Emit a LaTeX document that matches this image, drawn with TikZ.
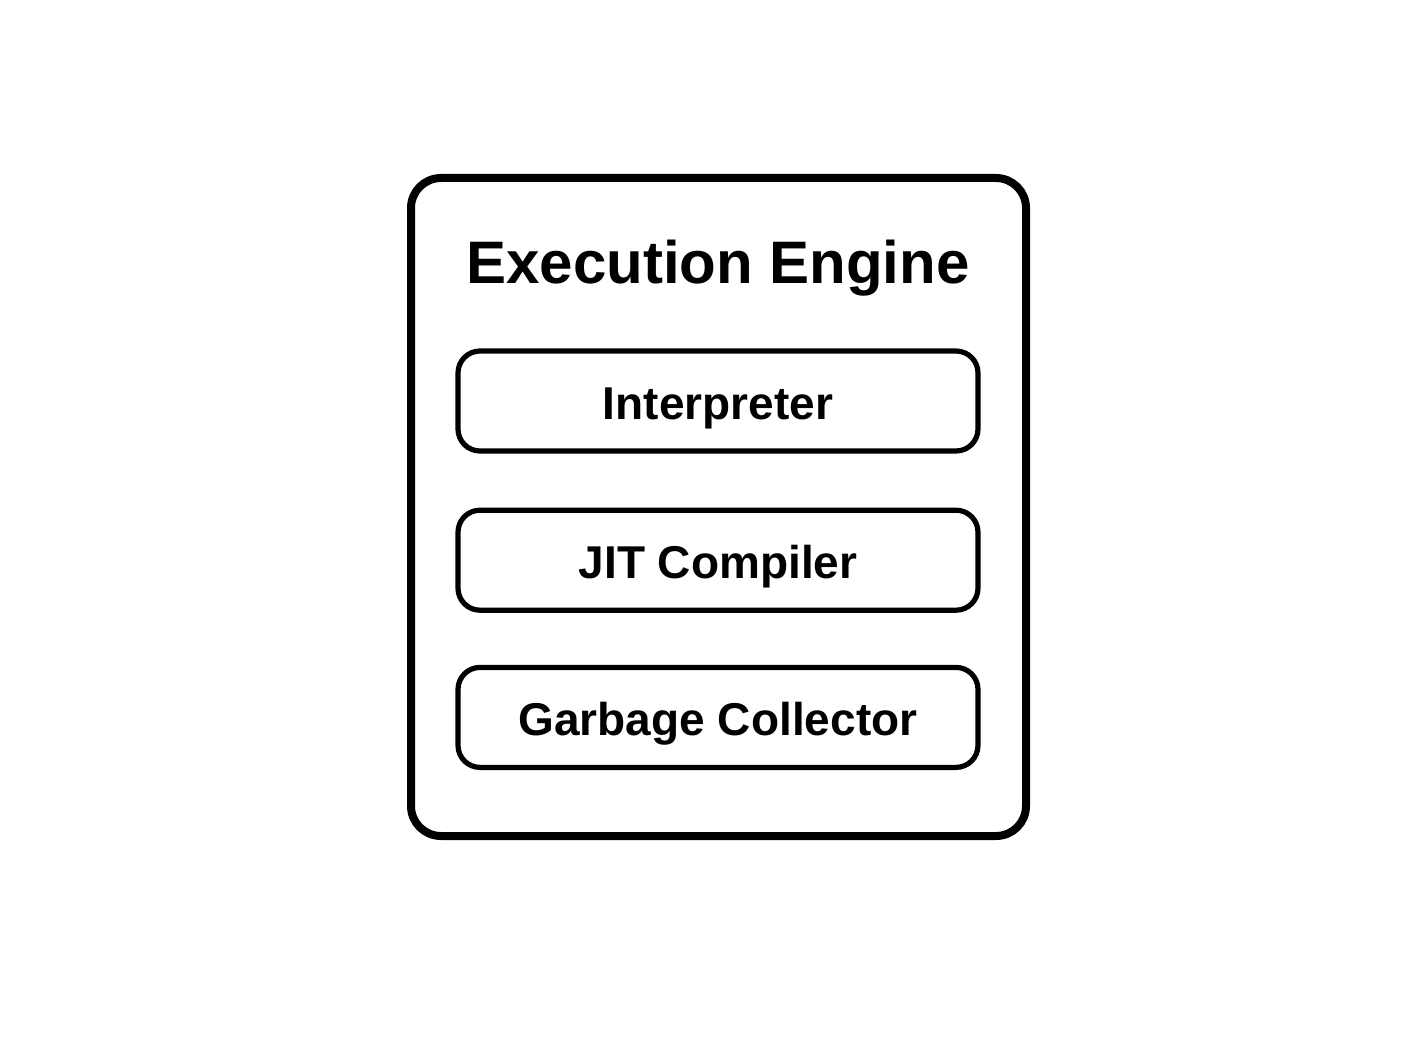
\documentclass[tikz,border=0pt]{standalone}
\usepackage{fontspec}
\setmainfont{Liberation Sans}
\usetikzlibrary{positioning}

\tikzset{
    frame/.style={draw, line width=4pt, rounded corners=15pt},
    part/.style={draw, line width=2.6pt, rounded corners=11pt,
        minimum width=260pt, minimum height=50pt,
        text height=18.5pt, text depth=0pt,
        font=\fontsize{23}{26}\selectfont\bfseries}
}

\begin{document}
\begin{tikzpicture}[x=0.5pt, y=-0.5pt]
    \useasboundingbox (0,0) rectangle (1420,1038);
    % Execution Engine frame
    \node[frame, minimum width=307.5pt, minimum height=329pt] (engine) at (718.5,507) {};
    \node[anchor=base, font=\fontsize{30}{34}\selectfont\bfseries] (title) at (718,283) {Execution Engine};

    % parts
    \node[part] (interp) at (718,401) {Interpreter};
    \node[part, below=27pt of interp] (jit) {JIT Compiler};
    \node[part, below=26pt of jit] (gc) {Garbage Collector};
\end{tikzpicture}
\end{document}
